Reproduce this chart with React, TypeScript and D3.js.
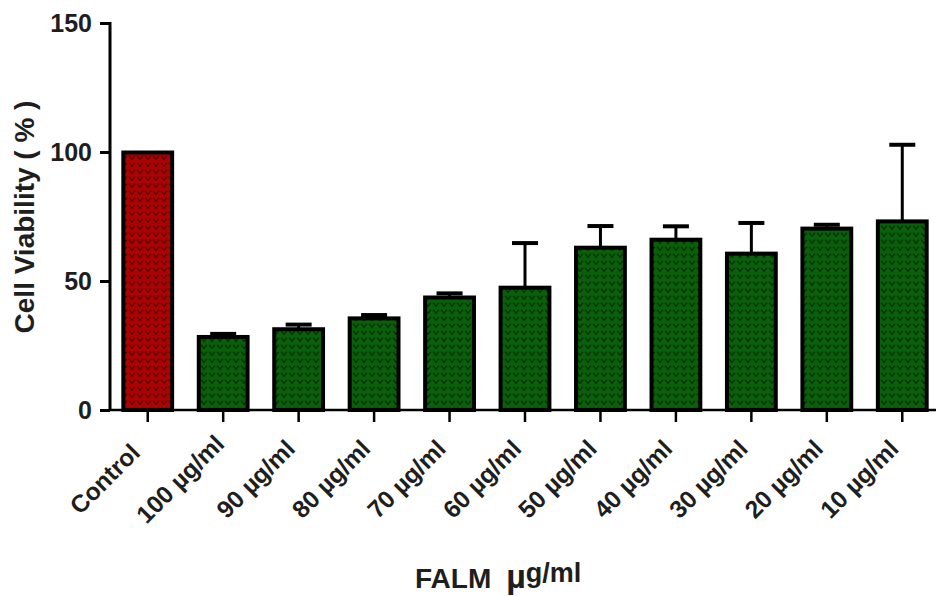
import React, { useEffect, useRef } from 'react';
import { axisBottom, axisLeft, scaleBand, scaleLinear, select } from 'd3';

const categories = ['Control', '100 µg/ml', '90 µg/ml', '80 µg/ml', '70 µg/ml', '60 µg/ml',
    '50 µg/ml', '40 µg/ml', '30 µg/ml', '20 µg/ml', '10 µg/ml'];
const viability = [100, 28.5, 31.5, 35.7, 43.8, 47.6, 63.1, 66.2, 60.8, 70.5, 73.3];
const errors = [0, 1.0, 1.6, 1.1, 1.4, 17.1, 8.2, 5.0, 11.7, 1.3, 29.5];
const yTicks = [0, 50, 100, 150];

const FONT = '"Liberation Sans", Arial, sans-serif';

export default function App() {
    const svgRef = useRef<SVGSVGElement>(null);
    const width = 936;
    const height = 596;

    useEffect(() => {
        const svg = select(svgRef.current);
        svg.select('.chart').remove();
        const chart = svg.append('g').attr('class', 'chart');

        // scales
        const xScale = scaleBand<string>()
            .domain(categories)
            .range([110, 940])
            .paddingInner(0.3)
            .paddingOuter(0.15);
        const yScale = scaleLinear().domain([0, 150]).range([410, 23]);
        const bw = xScale.bandwidth();

        // bars
        const data = categories.map((c, i) => ({ name: c, value: viability[i], err: errors[i], i }));
        chart.selectAll('.bar')
            .data(data)
            .join('rect')
            .attr('class', 'bar')
            .attr('x', (d) => (xScale(d.name) as number) + 2)
            .attr('width', bw - 4)
            .attr('y', (d) => yScale(d.value) + 0.5)
            .attr('height', (d) => yScale(0) - yScale(d.value) - 0.5)
            .attr('fill', (d) => (d.i === 0 ? 'url(#redPat)' : 'url(#greenPat)'))
            .attr('stroke', '#000')
            .attr('stroke-width', 4);

        // error bars (upper only)
        const errData = data.filter((d) => d.err > 0);
        chart.selectAll('.err-line')
            .data(errData)
            .join('line')
            .attr('class', 'err-line')
            .attr('x1', (d) => (xScale(d.name) as number) + bw / 2)
            .attr('x2', (d) => (xScale(d.name) as number) + bw / 2)
            .attr('y1', (d) => yScale(d.value))
            .attr('y2', (d) => yScale(d.value + d.err))
            .attr('stroke', '#000')
            .attr('stroke-width', 3);
        chart.selectAll('.err-cap')
            .data(errData)
            .join('line')
            .attr('class', 'err-cap')
            .attr('x1', (d) => (xScale(d.name) as number) + bw / 2 - 13)
            .attr('x2', (d) => (xScale(d.name) as number) + bw / 2 + 13)
            .attr('y1', (d) => yScale(d.value + d.err))
            .attr('y2', (d) => yScale(d.value + d.err))
            .attr('stroke', '#000')
            .attr('stroke-width', 4);

        // y axis
        const yAxis = axisLeft(yScale).tickValues(yTicks).tickSize(10).tickPadding(8).tickFormat((d) => String(d));
        const yg = chart.append('g').attr('transform', 'translate(110,0)').call(yAxis);
        yg.select('.domain').remove();
        yg.selectAll('line').attr('stroke', '#000').attr('stroke-width', 3);
        yg.selectAll('text')
            .attr('font-family', FONT)
            .attr('font-size', 25)
            .attr('font-weight', 'bold')
            .attr('fill', '#1e1e1e');
        chart.append('line')
            .attr('x1', 110).attr('x2', 110)
            .attr('y1', yScale(150) - 1).attr('y2', yScale(0) + 1)
            .attr('stroke', '#000').attr('stroke-width', 3);

        // x axis
        const xAxis = axisBottom(xScale).tickSize(12).tickSizeOuter(0);
        const xg = chart.append('g').attr('transform', `translate(0,${yScale(0)})`).call(xAxis);
        xg.select('.domain').remove();
        xg.selectAll('line').attr('stroke', '#000').attr('stroke-width', 2.5);
        xg.selectAll('text')
            .attr('font-family', FONT)
            .attr('font-size', 24.5)
            .attr('font-weight', 'bold')
            .attr('fill', '#1e1e1e')
            .attr('text-anchor', 'middle')
            .attr('x', -37)
            .attr('y', 75)
            .attr('dy', 0)
            .attr('transform', 'rotate(-45,-37,75)');
        chart.append('line')
            .attr('x1', 110).attr('x2', 936)
            .attr('y1', yScale(0)).attr('y2', yScale(0))
            .attr('stroke', '#000').attr('stroke-width', 2.5);
    }, []);

    return (
        <svg ref={svgRef} width={width} height={height}
             style={{ position: 'absolute', left: 0, top: 0, background: '#fff' }}>
            <defs>
                <pattern id="redPat" width={8} height={7} patternUnits="userSpaceOnUse">
                    <rect width={8} height={7} fill="#ad0202" />
                    <path d="M1.2,1.8 L4,5.4 L6.8,1.8" fill="none" stroke="#5e0000" strokeWidth={1.4} />
                </pattern>
                <pattern id="greenPat" width={8} height={7} patternUnits="userSpaceOnUse">
                    <rect width={8} height={7} fill="#0a600a" />
                    <path d="M1.2,1.8 L4,5.4 L6.8,1.8" fill="none" stroke="#023302" strokeWidth={1.4} />
                </pattern>
            </defs>
            <text transform="translate(34,217) rotate(-90)" textAnchor="middle"
                  fontFamily={FONT} fontSize={28} fontWeight="bold" fill="#1e1e1e">
                Cell Viability ( % )
            </text>
            <text x={415} y={588} fontFamily={FONT} fontSize={28} fontWeight="bold" fill="#1e1e1e">
                FALM
                <tspan dx={15} fontSize={34}>µ</tspan>
                <tspan fontSize={27} dy={-6}>g/ml</tspan>
            </text>
        </svg>
    );
}
